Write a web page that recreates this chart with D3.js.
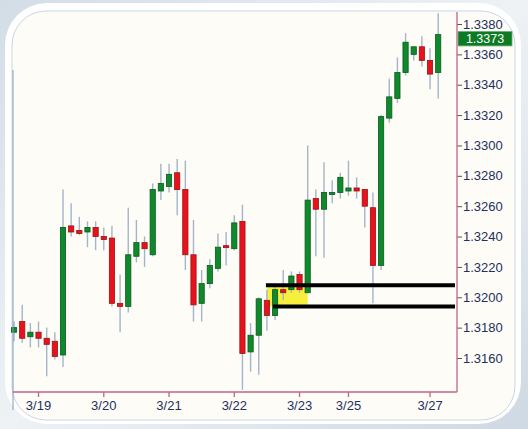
<!DOCTYPE html>
<html>
<head>
<meta charset="utf-8">
<script src="https://cdn.jsdelivr.net/npm/d3@7"></script>
<style>
  html, body { margin: 0; padding: 0; background: #dfe7ee; }
  svg { display: block; }
</style>
</head>
<body>
<svg id="chart" width="528" height="429"></svg>
<script>
// ---- data (intraday candles) ----
const opens  = [1.3177,1.3184,1.3174,1.3177,1.3173,1.3171,1.3162,1.3247,1.3244,1.3243,
                1.3246,1.3240,1.3239,1.3196,1.3194,1.3227,1.3236,1.3228,1.3270,1.3273,
                1.3282,1.3271,1.3228,1.3196,1.3209,1.3219,1.3234,1.3232,1.3250,1.3164,
                1.3175,1.3198,1.3188,1.3205,1.3205,1.3215,1.3203,1.3265,1.3258,1.3268,
                1.3269,1.3270,1.3272,1.3271,1.3259,1.3221,1.3318,1.3331,1.3348,1.3360,
                1.3365,1.3356,1.3348];
const highs  = [1.3184,1.3195,1.3183,1.3184,1.3180,1.3177,1.3271,1.3262,1.3253,1.3250,
                1.3250,1.3246,1.3247,1.3215,1.3259,1.3251,1.3240,1.3275,1.3288,1.3288,
                1.3291,1.3290,1.3251,1.3218,1.3225,1.3242,1.3243,1.3254,1.3261,1.3183,
                1.3200,1.3205,1.3207,1.3218,1.3217,1.3217,1.3300,1.3271,1.3289,1.3277,
                1.3282,1.3290,1.3279,1.3271,1.3269,1.3320,1.3344,1.3358,1.3374,1.3365,
                1.3372,1.3364,1.3387];
const lows   = [1.3171,1.3170,1.3167,1.3167,1.3148,1.3159,1.3154,1.3240,1.3241,1.3233,
                1.3231,1.3231,1.3194,1.3177,1.3190,1.3223,1.3220,1.3227,1.3264,1.3269,
                1.3254,1.3218,1.3184,1.3184,1.3206,1.3217,1.3221,1.3231,1.3139,1.3151,
                1.3149,1.3178,1.3185,1.3198,1.3203,1.3203,1.3203,1.3227,1.3226,1.3262,
                1.3265,1.3267,1.3265,1.3246,1.3196,1.3218,1.3315,1.3328,1.3346,1.3356,
                1.3352,1.3337,1.3331];
const closes = [1.3180,1.3173,1.3177,1.3173,1.3169,1.3161,1.3246,1.3243,1.3242,1.3246,
                1.3240,1.3238,1.3196,1.3194,1.3228,1.3236,1.3232,1.3271,1.3275,1.3281,
                1.3271,1.3228,1.3195,1.3209,1.3221,1.3233,1.3233,1.3249,1.3163,1.3175,
                1.3199,1.3188,1.3205,1.3203,1.3214,1.3205,1.3264,1.3258,1.3269,1.3269,
                1.3279,1.3272,1.3270,1.3260,1.3221,1.3319,1.3332,1.3348,1.3368,1.3365,
                1.3356,1.3347,1.3373];
const xTickIndex  = [3, 11, 19, 27, 35, 41, 51];
const xTickLabels = ["3/19", "3/20", "3/21", "3/22", "3/23", "3/25", "3/27"];
const yTicks = [1.3160,1.3180,1.3200,1.3220,1.3240,1.3260,1.3280,1.3300,1.3320,1.3340,1.3360,1.3380];
const lastPrice = 1.3373;
const zoneUpper = 1.3208, zoneLower = 1.3194;
const zoneStartIdx = 31, zoneLowerStartIdx = 32, zoneEndIdx = 36;

const candles = opens.map((o, i) => ({ i, o, h: highs[i], l: lows[i], c: closes[i] }));

// ---- layout ----
const svg = d3.select("#chart");
const plotLeft = 13, plotRight = 457, plotBottom = 392;

// frame
const defs = svg.append("defs");
const g1 = defs.append("linearGradient").attr("id", "outerGrad").attr("x1", 0).attr("y1", 0).attr("x2", 1).attr("y2", 1);
g1.append("stop").attr("offset", "0%").attr("stop-color", "#d3dde6");
g1.append("stop").attr("offset", "50%").attr("stop-color", "#eef2f5");
g1.append("stop").attr("offset", "100%").attr("stop-color", "#cfd9e3");
svg.append("rect").attr("width", 528).attr("height", 429).attr("fill", "url(#outerGrad)");
svg.append("rect").attr("x", 5).attr("y", 3).attr("width", 516).attr("height", 421).attr("rx", 42)
   .attr("fill", "#ffffff");
svg.append("rect").attr("x", 12).attr("y", 11).attr("width", 503).attr("height", 409).attr("rx", 34)
   .attr("fill", "#fdfcf7").attr("stroke", "#c9d6e3").attr("stroke-width", 1);

const x = d3.scaleBand().domain(candles.map(d => d.i)).range([11.45, 440.8]).paddingInner(0.36).paddingOuter(0);
const xc = i => x(i) + x.bandwidth() / 2;
const y = d3.scaleLinear().domain([1.316, 1.338]).range([358, 24]);

// yellow zone
svg.append("rect")
   .attr("x", xc(zoneStartIdx)).attr("width", xc(zoneEndIdx) - xc(zoneStartIdx))
   .attr("y", y(zoneUpper)).attr("height", y(zoneLower) - y(zoneUpper))
   .attr("fill", "#f6f03c");

// wicks
svg.append("g").selectAll("line").data(candles).join("line")
   .attr("x1", d => xc(d.i)).attr("x2", d => xc(d.i))
   .attr("y1", d => y(d.h)).attr("y2", d => y(d.l))
   .attr("stroke", "#a3b5c9").attr("stroke-width", 1.4);

// bodies
svg.append("g").selectAll("rect").data(candles).join("rect")
   .attr("x", d => x(d.i)).attr("width", x.bandwidth())
   .attr("y", d => y(Math.max(d.o, d.c)))
   .attr("height", d => Math.max(2, Math.abs(y(d.o) - y(d.c))))
   .attr("fill", d => d.c >= d.o ? "#0e8a2c" : "#e8121c")
   .attr("stroke", d => d.c >= d.o ? "#0a5a1c" : "#9a1216")
   .attr("stroke-width", 0.8);

// horizontal support/resistance lines
svg.append("line").attr("x1", xc(zoneStartIdx) - 1).attr("x2", plotRight - 2)
   .attr("y1", y(zoneUpper)).attr("y2", y(zoneUpper))
   .attr("stroke", "#000").attr("stroke-width", 4);
svg.append("line").attr("x1", xc(zoneLowerStartIdx) - 2).attr("x2", plotRight - 2)
   .attr("y1", y(zoneLower)).attr("y2", y(zoneLower))
   .attr("stroke", "#000").attr("stroke-width", 4);

// left plot border
svg.append("line").attr("x1", plotLeft).attr("x2", plotLeft).attr("y1", 70).attr("y2", 410)
   .attr("stroke", "#7f9cc0").attr("stroke-width", 1);

// axes
const axisColor = "#c2648a";
const textColor = "#1f2f5e";

const yAxis = d3.axisRight(y).tickValues(yTicks).tickFormat(d3.format(".4f")).tickSize(5).tickPadding(1);
const gy = svg.append("g").attr("transform", `translate(${plotRight},0)`).call(yAxis);
gy.select(".domain").remove();
gy.selectAll(".tick line").attr("stroke", "#555");
gy.selectAll(".tick text").attr("fill", textColor).attr("font-family", "Liberation Sans, Arial, sans-serif")
  .attr("font-size", 13);
svg.append("line").attr("x1", plotRight).attr("x2", plotRight).attr("y1", 12).attr("y2", plotBottom)
   .attr("stroke", axisColor).attr("stroke-width", 1.3);

const xAxis = d3.axisBottom(x).tickValues(xTickIndex)
   .tickFormat((d) => xTickLabels[xTickIndex.indexOf(d)]).tickSize(5).tickPadding(4);
const gx = svg.append("g").attr("transform", `translate(0,${plotBottom})`).call(xAxis);
gx.select(".domain").remove();
gx.selectAll(".tick line").attr("stroke", axisColor).attr("stroke-width", 1.3);
gx.selectAll(".tick text").attr("fill", textColor).attr("font-family", "Liberation Sans, Arial, sans-serif")
  .attr("font-size", 13);
svg.append("line").attr("x1", plotLeft).attr("x2", plotRight).attr("y1", plotBottom).attr("y2", plotBottom)
   .attr("stroke", axisColor).attr("stroke-width", 1.3);

// last price label (sits just below the top tick label)
const lp = svg.append("g").attr("transform", `translate(${plotRight + 1},${y(lastPrice)})`);
lp.append("rect").attr("x", 0).attr("y", -3.2).attr("width", 54).attr("height", 14.5)
  .attr("fill", "#0d7a24").attr("stroke", "#6fb07a").attr("stroke-width", 0.8);
lp.append("text").attr("x", 27).attr("y", 8.3).attr("text-anchor", "middle")
  .attr("fill", "#ffffff").attr("font-family", "Liberation Sans, Arial, sans-serif").attr("font-size", 12.5)
  .text(d3.format(".4f")(lastPrice));
</script>
</body>
</html>
